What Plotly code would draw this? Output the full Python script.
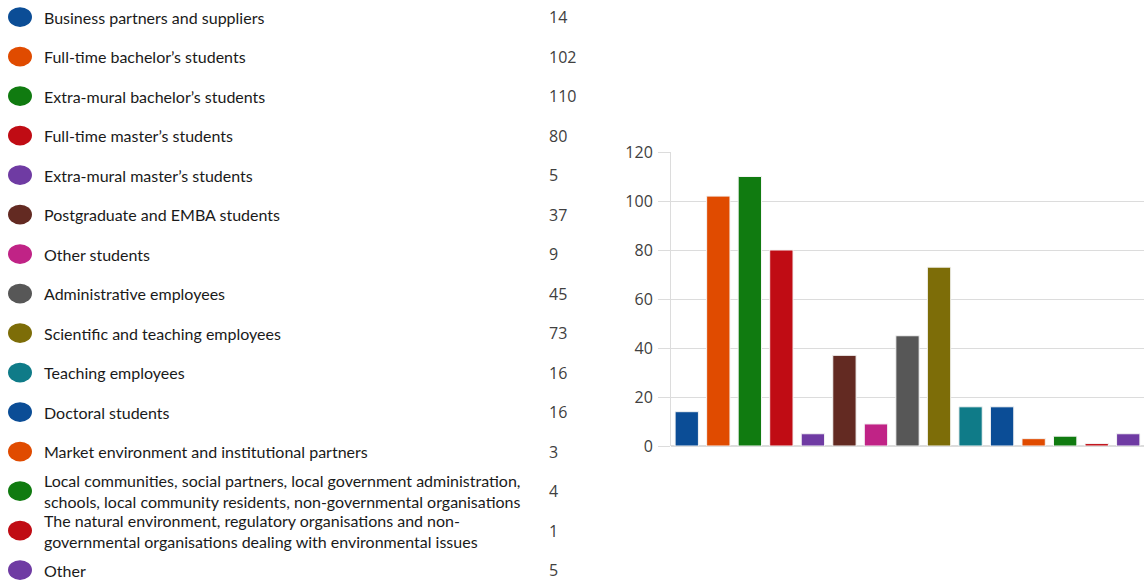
import plotly.graph_objects as go

# ---- data ----
categories = [
    "Business partners and suppliers",
    "Full-time bachelor’s students",
    "Extra-mural bachelor’s students",
    "Full-time master’s students",
    "Extra-mural master’s students",
    "Postgraduate and EMBA students",
    "Other students",
    "Administrative employees",
    "Scientific and teaching employees",
    "Teaching employees",
    "Doctoral students",
    "Market environment and institutional partners",
    "Local communities, social partners, local government administration,<br>schools, local community residents, non-governmental organisations",
    "The natural environment, regulatory organisations and non-<br>governmental organisations dealing with environmental issues",
    "Other",
]
values = [14, 102, 110, 80, 5, 37, 9, 45, 73, 16, 16, 3, 4, 1, 5]
colors = [
    "#0b4d96", "#e04b00", "#107b10", "#c00c14", "#6f3ba3",
    "#632a22", "#c02386", "#575757", "#7d6d08", "#0f7b88",
    "#0b4d96", "#e04b00", "#107b10", "#c00c14", "#6f3ba3",
]
y_ticks = [0, 20, 40, 60, 80, 100, 120]

W, H = 1145, 581
GRID = "#dcdcdc"

fig = go.Figure()

idx = list(range(len(categories)))

fig.add_trace(go.Bar(
    x=idx, y=values,
    marker=dict(color=colors, line=dict(color="#f4f4f4", width=1)),
    width=0.74,
    xaxis="x", yaxis="y",
    hoverinfo="skip",
))

# invisible trace to establish legend axes
fig.add_trace(go.Scatter(
    x=[20] * len(idx), y=idx, mode="markers",
    marker=dict(size=1, color="rgba(0,0,0,0)"),
    xaxis="x2", yaxis="y2", hoverinfo="skip",
))

shapes = []
annotations = []
for i, (lab, v, c) in enumerate(zip(categories, values, colors)):
    shapes.append(dict(
        type="circle", xref="x2", yref="y2",
        x0=8, x1=32, y0=i - 0.25, y1=i + 0.25,
        fillcolor=c, line=dict(width=0), layer="above",
    ))
    annotations.append(dict(
        x=42, y=i, xref="x2", yref="y2", text=lab, showarrow=False,
        xanchor="left", yanchor="middle", align="left",
        font=dict(family="Lato", size=16, color="#1a1a1a"),
    ))
    annotations.append(dict(
        x=547, y=i, xref="x2", yref="y2", text=str(v), showarrow=False,
        xanchor="left", yanchor="middle", align="left",
        font=dict(family="Open Sans", size=16, color="#404040"),
    ))

fig.update_layout(
    width=W, height=H,
    margin=dict(l=0, r=0, t=0, b=0, pad=0, autoexpand=False),
    paper_bgcolor="white", plot_bgcolor="white",
    showlegend=False,
    hovermode=False,
    xaxis=dict(
        domain=[671 / W, 1144 / W], range=[-0.5, 14.5],
        showticklabels=False, showgrid=False, zeroline=False, ticks="",
        fixedrange=True,
    ),
    yaxis=dict(
        domain=[1 - 446 / H, 1 - 152 / H], range=[0, 120],
        tickvals=y_ticks, ticks="outside", ticklen=12, tickcolor=GRID,
        gridcolor=GRID, gridwidth=1, zeroline=True, zerolinecolor=GRID,
        showline=True, linecolor=GRID, linewidth=1,
        tickfont=dict(family="Open Sans", size=16, color="#404040"),
        ticklabelstandoff=2,
        fixedrange=True,
    ),
    xaxis2=dict(
        domain=[0, 664 / W], range=[0, 664], visible=False, fixedrange=True,
    ),
    yaxis2=dict(
        domain=[0, 1], range=[14 + 11 / 39.5, -17 / 39.5], visible=False,
        anchor="x2", fixedrange=True,
    ),
    shapes=shapes,
    annotations=annotations,
)

fig.write_html(
    "out.html",
    config={"displayModeBar": False, "responsive": False},
    post_script="document.documentElement.style.margin='0';"
                "document.body.style.margin='0';"
                "document.body.style.overflow='hidden';",
)
